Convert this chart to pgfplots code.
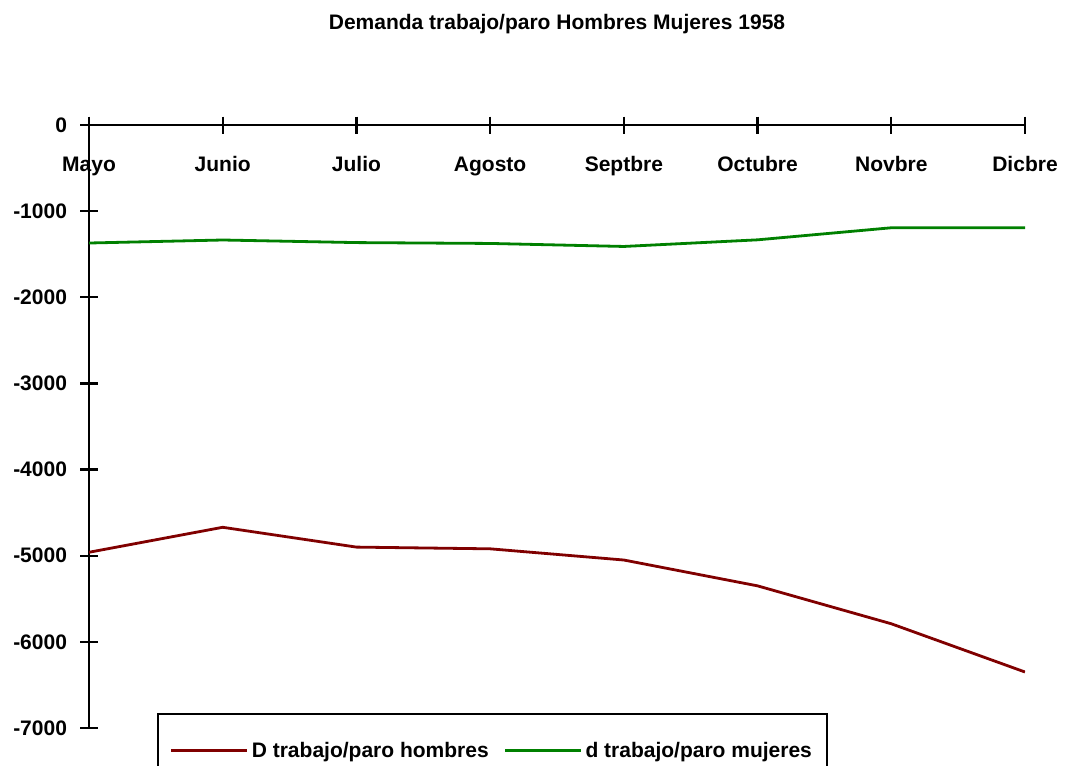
\documentclass[border=0pt]{standalone}
\usepackage{fontspec}
\setmainfont{Liberation Sans}
\usepackage{pgfplots}
\pgfplotsset{compat=1.18}
\definecolor{dred}{HTML}{800000}
\definecolor{dgreen}{HTML}{008000}
\newcommand{\cf}{\bfseries\fontsize{21}{25}\selectfont}
\begin{document}
\begin{tikzpicture}
\begin{axis}[
  at={(89pt,-125pt)}, anchor=north west,
  width=936pt, height=603pt, scale only axis,
  xmin=0, xmax=7, ymin=-7000, ymax=0,
  axis x line*=top, axis y line*=left,
  axis line style={line width=2.4pt, black},
  xtick={0,...,7},
  xticklabels={Mayo,Junio,Julio,Agosto,Septbre,Octubre,Novbre,Dicbre},
  ytick={-7000,-6000,...,0},
  tick align=center, major tick length=17pt,
  tick style={line width=2.4pt, black},
  tick label style={font=\cf},
  xticklabel style={anchor=base, yshift=-55pt},
  yticklabel style={anchor=east, xshift=-10pt},
  /pgf/number format/assume math mode=true,
  /pgf/number format/set thousands separator={},
  title={Demanda trabajo/paro Hombres Mujeres 1958},
  title style={font=\cf, at={(0.5,1)}, anchor=base, yshift=89pt},
  legend columns=2,
  legend style={at={(0.0726,0.0249)}, anchor=north west, draw=black, line width=2.2pt,
    font=\cf, inner xsep=12pt, inner ysep=25pt, nodes={inner sep=3pt},
    /tikz/every even column/.append style={column sep=12pt}},
  legend image code/.code={\draw[#1] (0pt,0pt) -- (76pt,0pt);},
]
\addplot[dred, line width=2.8pt] coordinates {
(0,-4960) (1,-4670) (2,-4900) (3,-4920) (4,-5050) (5,-5350) (6,-5790) (7,-6350)};
\addlegendentry{D trabajo/paro hombres}
\addplot[dgreen, line width=2.8pt] coordinates {
(0,-1370) (1,-1335) (2,-1365) (3,-1375) (4,-1410) (5,-1333) (6,-1193) (7,-1193)};
\addlegendentry{d trabajo/paro mujeres}
\end{axis}
\pgfresetboundingbox
\path (0pt,0pt) rectangle (1067pt,-765pt);
\end{tikzpicture}
\end{document}
